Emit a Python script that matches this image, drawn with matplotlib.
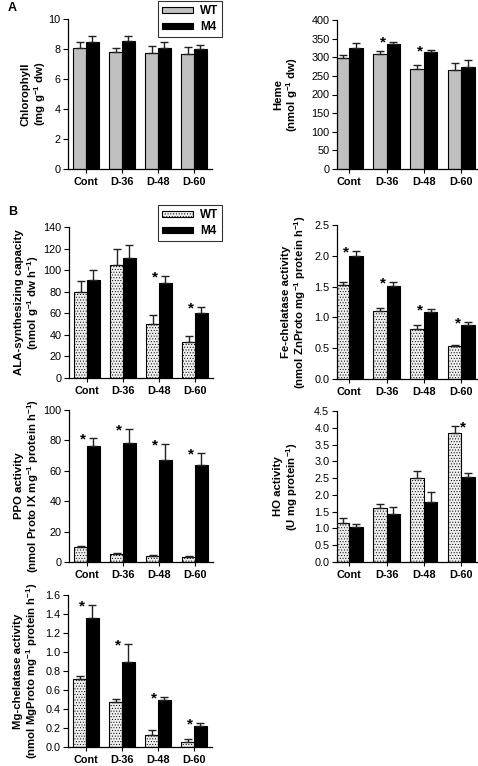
import numpy as np
import matplotlib
matplotlib.use("Agg")
import matplotlib.pyplot as plt

plt.rcParams["font.family"] = ["Liberation Sans", "DejaVu Sans"]
plt.rcParams["mathtext.default"] = "regular"
plt.rcParams["hatch.color"] = "#a0a0a0"
plt.rcParams["hatch.linewidth"] = 0.4

groups = ["Cont", "D-36", "D-48", "D-60"]

# panel A
chl_wt = [8.1, 7.8, 7.75, 7.7]
chl_wt_err = [0.35, 0.25, 0.45, 0.45]
chl_m4 = [8.5, 8.55, 8.1, 8.0]
chl_m4_err = [0.4, 0.3, 0.4, 0.25]

heme_wt = [297, 308, 268, 265]
heme_wt_err = [10, 8, 12, 20]
heme_m4 = [325, 335, 314, 275]
heme_m4_err = [12, 7, 6, 18]
heme_sig = [None, "m4", "m4", None]

# panel B
ala_wt = [80, 105, 50, 33]
ala_wt_err = [10, 15, 8, 6]
ala_m4 = [91, 111, 88, 60]
ala_m4_err = [9.5, 12, 6.5, 5.5]
ala_sig = [None, None, "m4", "m4"]

fe_wt = [1.53, 1.11, 0.81, 0.53]
fe_wt_err = [0.05, 0.05, 0.06, 0.03]
fe_m4 = [1.99, 1.51, 1.08, 0.87]
fe_m4_err = [0.08, 0.06, 0.05, 0.05]
fe_sig = ["m4", "m4", "m4", "m4"]

ppo_wt = [9.8, 5.5, 4.0, 3.6]
ppo_wt_err = [0.8, 0.5, 0.4, 0.5]
ppo_m4 = [76, 78, 67, 63.5]
ppo_m4_err = [5.5, 9.5, 10.5, 8]
ppo_sig = ["m4", "m4", "m4", "m4"]

ho_wt = [1.17, 1.6, 2.5, 3.85]
ho_wt_err = [0.14, 0.12, 0.22, 0.19]
ho_m4 = [1.04, 1.43, 1.8, 2.52]
ho_m4_err = [0.1, 0.2, 0.28, 0.13]
ho_sig = [None, None, None, "wt"]

mg_wt = [0.72, 0.47, 0.13, 0.05]
mg_wt_err = [0.03, 0.04, 0.05, 0.03]
mg_m4 = [1.36, 0.90, 0.50, 0.22]
mg_m4_err = [0.13, 0.18, 0.03, 0.03]
mg_sig = ["m4", "m4", "m4", "m4"]

W, H = 478, 766
fig = plt.figure(figsize=(W / 100, H / 100), dpi=100)


def make_ax(x0, x1, y0, y1):
    # pixel box -> figure fraction
    return fig.add_axes([x0 / W, 1 - y1 / H, (x1 - x0) / W, (y1 - y0) / H])


def draw(ax, wt, wt_err, m4, m4_err, ylim, step, ylabel, fmt, xlim,
         label_x, sig=None, dotted=False):
    x = np.arange(len(groups))
    bw = 0.36
    if dotted:
        b1 = ax.bar(x - bw / 2, wt, bw, color="#eeeeee", edgecolor="black",
                    linewidth=0.8, hatch="......", label="WT")
    else:
        b1 = ax.bar(x - bw / 2, wt, bw, color="#c0c0c0", edgecolor="black",
                    linewidth=0.8, label="WT")
    b2 = ax.bar(x + bw / 2, m4, bw, color="black", edgecolor="black",
                linewidth=0.8, label="M4")
    z = np.zeros(len(groups))
    ax.errorbar(x - bw / 2, wt, yerr=[z, wt_err], fmt="none", ecolor="#222222",
                elinewidth=1, capsize=3, capthick=1)
    ax.errorbar(x + bw / 2, m4, yerr=[z, m4_err], fmt="none", ecolor="#222222",
                elinewidth=1, capsize=3, capthick=1)
    if sig:
        for i, s in enumerate(sig):
            if s == "m4":
                ax.annotate("*", (x[i] - 0.1, m4[i] + m4_err[i]), xytext=(0, -6),
                            textcoords="offset points", ha="center", va="bottom",
                            fontsize=11, fontweight="bold")
            elif s == "wt":
                ax.annotate("*", (x[i] + 0.04, wt[i] + wt_err[i]), xytext=(0, -6),
                            textcoords="offset points", ha="center", va="bottom",
                            fontsize=11, fontweight="bold")
    ax.set_ylim(*ylim)
    ax.set_xlim(*xlim)
    ax.set_yticks(np.arange(ylim[0], ylim[1] + step / 2, step))
    ax.yaxis.set_major_formatter(plt.FormatStrFormatter(fmt))
    ax.set_xticks(x)
    ax.set_xticklabels(groups, fontweight="bold", fontsize=7.8)
    ax.tick_params(axis="y", labelsize=7.8, length=3.5, width=0.8, pad=2)
    ax.tick_params(axis="x", length=3, width=0.8, pad=2.5)
    for s in ["top", "right"]:
        ax.spines[s].set_visible(False)
    for s in ["left", "bottom"]:
        ax.spines[s].set_linewidth(0.9)
    ax.set_ylabel(ylabel, fontsize=8.2, fontweight="bold", va="center",
                  linespacing=1.1)
    ax.yaxis.set_label_coords(label_x, 0.5)
    return b1, b2


LX = (-0.5, 3.5)
RX = (-0.33, 3.45)

axA1 = make_ax(68, 212, 19, 169)
h = draw(axA1, chl_wt, chl_wt_err, chl_m4, chl_m4_err, (0, 10), 2,
         "Chlorophyll\n(mg g$^{-1}$ dw)", "%d", LX, -0.235)
axA2 = make_ax(337, 478, 20, 169)
draw(axA2, heme_wt, heme_wt_err, heme_m4, heme_m4_err, (0, 400), 50,
     "Heme\n(nmol g$^{-1}$ dw)", "%d", RX, -0.355, heme_sig)

axB1 = make_ax(69, 213, 227, 378)
hb = draw(axB1, ala_wt, ala_wt_err, ala_m4, ala_m4_err, (0, 140), 20,
          "ALA-synthesizing capacity\n(nmol g$^{-1}$ dw h$^{-1}$)", "%d", LX,
          -0.285, ala_sig, dotted=True)
axB2 = make_ax(337, 478, 225, 379)
draw(axB2, fe_wt, fe_wt_err, fe_m4, fe_m4_err, (0, 2.5), 0.5,
     "Fe-chelatase activity\n(nmol ZnProto mg$^{-1}$ protein h$^{-1}$)", "%.1f",
     RX, -0.3, fe_sig, dotted=True)

axC1 = make_ax(69, 213, 410, 562)
draw(axC1, ppo_wt, ppo_wt_err, ppo_m4, ppo_m4_err, (0, 100), 20,
     "PPO activity\n(nmol Proto IX mg$^{-1}$ protein h$^{-1}$)", "%d", LX,
     -0.285, ppo_sig, dotted=True)
axC2 = make_ax(337, 478, 411, 562)
draw(axC2, ho_wt, ho_wt_err, ho_m4, ho_m4_err, (0, 4.5), 0.5,
     "HO activity\n(U mg protein$^{-1}$)", "%.1f", RX, -0.355, ho_sig,
     dotted=True)

axD1 = make_ax(68, 212, 595, 747)
draw(axD1, mg_wt, mg_wt_err, mg_m4, mg_m4_err, (0, 1.6), 0.2,
     "Mg-chelatase activity\n(nmol MgProto mg$^{-1}$ protein h$^{-1}$)", "%.1f",
     LX, -0.285, mg_sig, dotted=True)

for handles, y in [(h, 1), (hb, 205)]:
    leg = fig.legend(handles, ["WT", "M4"], loc="upper left",
                     bbox_to_anchor=(158 / W, 1 - y / H), borderaxespad=0,
                     frameon=True, fancybox=False, edgecolor="black",
                     handlelength=2.6, handleheight=0.45, handletextpad=0.6,
                     borderpad=0.35, labelspacing=0.35,
                     prop={"weight": "bold", "size": 8.5})
    leg.get_frame().set_linewidth(0.8)

fig.text(8 / W, 1 - 8 / H, "A", fontsize=9, fontweight="bold", va="center")
fig.text(8 / W, 1 - 212 / H, "B", fontsize=9, fontweight="bold", va="center")

fig.savefig("out.png", dpi=100)
